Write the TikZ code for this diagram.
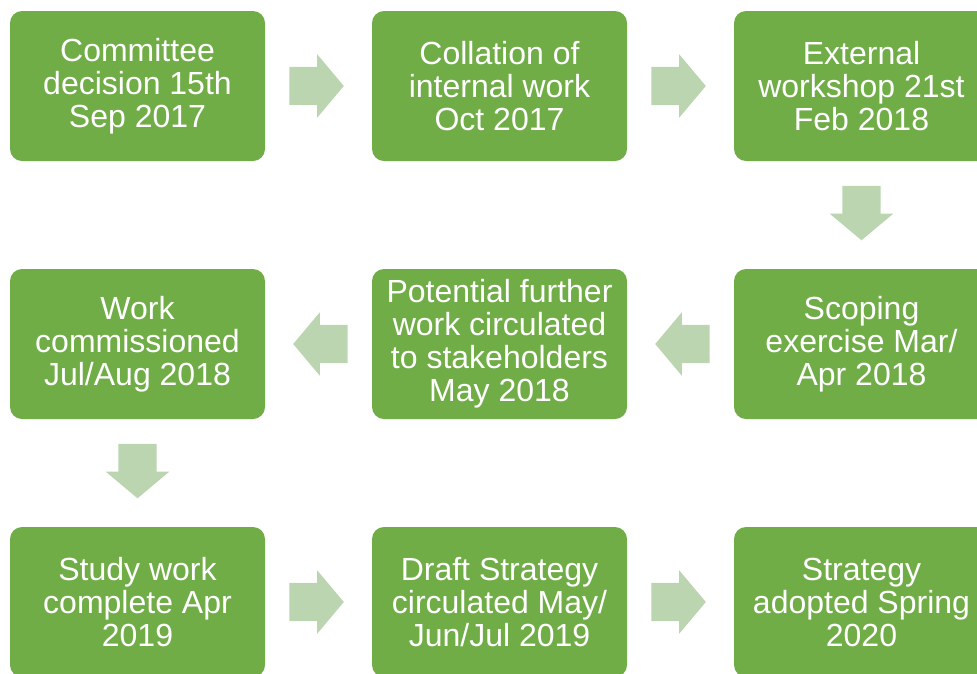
\documentclass[tikz,border=0pt]{standalone}
\usepackage{fontspec}
\setmainfont{Liberation Sans}
\usetikzlibrary{shapes.arrows,calc}

\definecolor{stagegreen}{HTML}{70AD47}
\definecolor{flowgreen}{HTML}{BCD5B1}

\tikzset{
  stage/.style={fill=stagegreen, rounded corners=12pt, inner sep=0pt,
    minimum width=255pt, minimum height=150pt, text=white, align=center,
    font=\fontsize{32}{33}\selectfont},
  flow/.style={single arrow, fill=flowgreen, draw=none, inner sep=19pt,
    minimum height=54pt, single arrow head extend=12.5pt,
    single arrow tip angle=100},
}

\begin{document}
\begin{tikzpicture}[x=1pt,y=-1pt]
    \useasboundingbox (0,0) rectangle (977,673);
    \clip (0,0) rectangle (977,673);

    % top row
    \node[stage] (decision)  at (137.5,86) {Committee\\decision 15th\\Sep 2017};
    \node[stage] (collation) at (499.5,86) {Collation of\\internal work\\Oct 2017};
    \node[stage] (workshop)  at (861.5,86) {External\\workshop 21st\\Feb 2018};

    % middle row
    \node[stage] (commission) at (137.5,344) {Work\\commissioned\\Jul/Aug 2018};
    \node[stage] (further)    at (499.5,344) {Potential further\\work circulated\\to stakeholders\\May 2018};
    \node[stage] (scoping)    at (861.5,344) {Scoping\\exercise Mar/\\Apr 2018};

    % bottom row
    \node[stage] (study)   at (137.5,602) {Study work\\complete Apr\\2019};
    \node[stage] (draft)   at (499.5,602) {Draft Strategy\\circulated May/\\Jun/Jul 2019};
    \node[stage] (adopted) at (861.5,602) {Strategy\\adopted Spring\\2020};

    % block arrows between the stages (shifted back so the tip sits centred)
    \node[flow, xshift=-10pt] (f1) at ($(decision.east)!0.5!(collation.west)$) {};
    \node[flow, xshift=-10pt] (f2) at ($(collation.east)!0.5!(workshop.west)$) {};
    \node[flow, shape border rotate=270, yshift=10pt] (f3) at ($(workshop.south)!0.5!(scoping.north)$) {};
    \node[flow, shape border rotate=180, xshift=10pt] (f4) at ($(scoping.west)!0.5!(further.east)$) {};
    \node[flow, shape border rotate=180, xshift=10pt] (f5) at ($(further.west)!0.5!(commission.east)$) {};
    \node[flow, shape border rotate=270, yshift=10pt] (f6) at ($(commission.south)!0.5!(study.north)$) {};
    \node[flow, xshift=-10pt] (f7) at ($(study.east)!0.5!(draft.west)$) {};
    \node[flow, xshift=-10pt] (f8) at ($(draft.east)!0.5!(adopted.west)$) {};
\end{tikzpicture}
\end{document}
